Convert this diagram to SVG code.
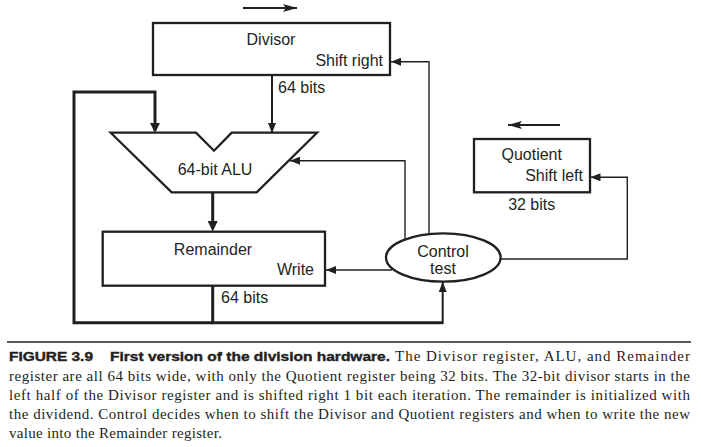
<svg xmlns="http://www.w3.org/2000/svg" width="701" height="447" viewBox="0 0 701 447">
<style>
.box{fill:#fff;stroke:#231f20;stroke-width:2.3}
.lbl{font-family:"Liberation Sans",Arial,sans-serif;font-size:16px;fill:#231f20}
.mid{text-anchor:middle}
.end{text-anchor:end}
.thick{fill:none;stroke:#231f20;stroke-width:3}
.med{fill:none;stroke:#231f20;stroke-width:2}
.thin{fill:none;stroke:#231f20;stroke-width:1.4}
.cap{font-family:"Liberation Serif","Times New Roman",serif;font-size:15px;fill:#231f20}
.capb{font-family:"Liberation Sans",Arial,sans-serif;font-size:13.5px;font-weight:bold;fill:#231f20;stroke:#231f20;stroke-width:0.4}
</style>
<defs>
<marker id="ah" viewBox="0 0 10 8" refX="10" refY="4" markerWidth="10" markerHeight="8" markerUnits="userSpaceOnUse" orient="auto">
<path d="M0,0 L10,4 L0,8 Z" fill="#231f20"/>
</marker>
<marker id="ahs" viewBox="0 0 14 8" refX="14" refY="4" markerWidth="14" markerHeight="8" markerUnits="userSpaceOnUse" orient="auto">
<path d="M0,0 L14,4 L0,8 L3,4 Z" fill="#231f20"/>
</marker>
</defs>
<g id="connectors">
<path class="thin" d="M429,236 V61.7 H391" marker-end="url(#ah)"/>
<path class="med" d="M272,75 V133" marker-end="url(#ah)"/>
<path class="thick" d="M212.7,322.7 H74 V92 H155 V130.5"/>
<path d="M150,123 L160,123 L155,133 Z" fill="#231f20"/>
<path class="thin" d="M405,241 V160.7 H290" marker-end="url(#ah)"/>
<path class="thick" d="M212.7,192.3 V222"/>
<path d="M207.7,221 L217.7,221 L212.7,231.7 Z" fill="#231f20"/>
<path class="thin" d="M392,270 H326" marker-end="url(#ah)"/>
<path class="thick" d="M212.7,285.7 V322.7 H442.7"/>
<path class="med" d="M442.7,324 V282" marker-end="url(#ah)"/>
<path class="thin" d="M499,259 H627.3 V177.3 H590.5" marker-end="url(#ah)"/>
<path class="med" d="M243,8 H297" marker-end="url(#ahs)"/>
<path class="med" d="M560,125 H508" marker-end="url(#ahs)"/>
</g>
<g id="divisor">
<rect class="box" x="153" y="23" width="237" height="52"/>
<text class="lbl mid" x="271" y="45">Divisor</text>
<text class="lbl end" x="383" y="66">Shift right</text>
<text class="lbl" x="278" y="93">64 bits</text>
</g>
<g id="alu">
<path class="box" d="M110.7,132.7 H196 L214,150.7 L231.7,132.7 H317 L256.7,192.3 H171.7 Z"/>
<text class="lbl mid" x="215" y="175">64-bit ALU</text>
</g>
<g id="remainder">
<rect class="box" x="102.7" y="231.7" width="222.3" height="54"/>
<text class="lbl mid" x="213" y="255">Remainder</text>
<text class="lbl end" x="314" y="275">Write</text>
<text class="lbl" x="221" y="303">64 bits</text>
</g>
<g id="control">
<ellipse class="box" cx="443.3" cy="257.5" rx="57.3" ry="24.2" stroke-width="2"/>
<text class="lbl mid" x="443" y="256.7">Control</text>
<text class="lbl mid" x="443" y="274">test</text>
</g>
<g id="quotient">
<rect class="box" x="474" y="139" width="116" height="53.3"/>
<text class="lbl mid" x="531.7" y="160">Quotient</text>
<text class="lbl end" x="583" y="181">Shift left</text>
<text class="lbl mid" x="531.7" y="210">32 bits</text>
</g>
<g id="caption">
<line x1="7" y1="342" x2="691" y2="342" stroke="#231f20" stroke-width="1.5"/>
<text class="capb" x="9" y="361" textLength="84" lengthAdjust="spacingAndGlyphs">FIGURE 3.9</text>
<text class="capb" x="110" y="361" textLength="280" lengthAdjust="spacingAndGlyphs">First version of the division hardware.</text>
<text class="cap" x="395" y="361" textLength="295" lengthAdjust="spacing">The Divisor register, ALU, and Remainder</text>
<text class="cap" x="9" y="380.5" textLength="681" lengthAdjust="spacing">register are all 64 bits wide, with only the Quotient register being 32 bits. The 32-bit divisor starts in the</text>
<text class="cap" x="9" y="400" textLength="681" lengthAdjust="spacing">left half of the Divisor register and is shifted right 1 bit each iteration. The remainder is initialized with</text>
<text class="cap" x="9" y="419" textLength="681" lengthAdjust="spacing">the dividend. Control decides when to shift the Divisor and Quotient registers and when to write the new</text>
<text class="cap" x="9" y="438" textLength="213" lengthAdjust="spacing">value into the Remainder register.</text>
</g>
</svg>
